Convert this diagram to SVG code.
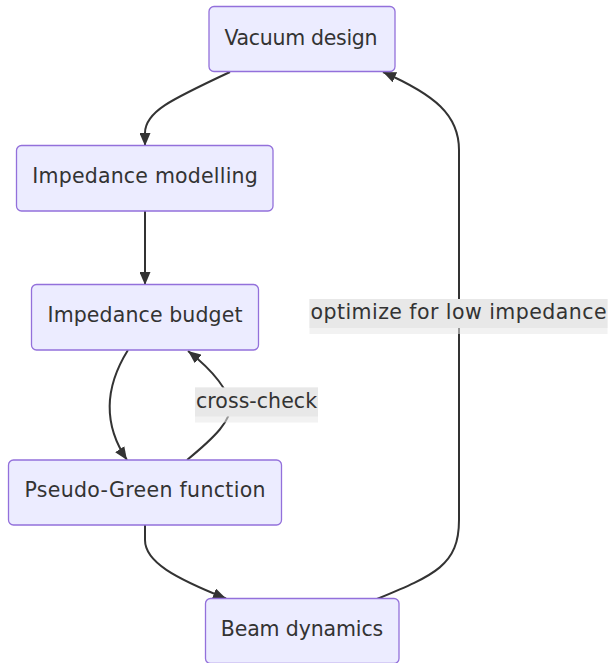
<svg xmlns="http://www.w3.org/2000/svg" width="610" height="663" viewBox="0 0 610 663">
<style>
.node rect{fill:#ECECFF;stroke:#9370DB;stroke-width:1.3px;}
.label{font-family:"DejaVu Sans",Verdana,sans-serif;font-size:20.5px;fill:#333333;text-anchor:middle;}
.edge{fill:none;stroke:#333333;stroke-width:2px;}
.lbl-dark{fill:#e8e8e8;}
.lbl-light{fill:#e8e8e8;opacity:0.55;}
</style>
<defs>
<marker id="arrow" viewBox="0 0 13 11" refX="13" refY="5.5" markerWidth="13" markerHeight="11" markerUnits="userSpaceOnUse" orient="auto">
<path d="M0,0 L13,5.5 L0,11 z" fill="#333333"/>
</marker>
</defs>
<rect width="610" height="663" fill="#ffffff"/>
<g id="connectors">
<path class="edge" marker-end="url(#arrow)" d="M230,72 C170,100 145,112 145,133 L145,146"/>
<path class="edge" marker-end="url(#arrow)" d="M145,211 L145,285"/>
<path class="edge" marker-end="url(#arrow)" d="M128,350 C108,382 100,420 127,460"/>
<path class="edge" marker-end="url(#arrow)" d="M187,460 C215,437 232,420 230,405 C229,392 215,372 188,351"/>
<path class="edge" marker-end="url(#arrow)" d="M145,525 L145,540 C145,562 175,578 226,598.5"/>
<path class="edge" marker-end="url(#arrow)" d="M377,599 C435,575 459,565 459,520 L459,150 C459,115 435,95 383,72"/>
</g>
<g id="edge-labels">
<g id="label-crosscheck">
<rect class="lbl-light" x="195" y="387.5" width="123" height="35"/>
<rect class="lbl-dark" x="195" y="387.5" width="123" height="29"/>
<text class="label" x="256.5" y="407.5" textLength="121">cross-check</text>
</g>
<g id="label-optimize">
<rect class="lbl-light" x="309.5" y="299" width="298" height="35"/>
<rect class="lbl-dark" x="309.5" y="299" width="298" height="29"/>
<text class="label" x="458.5" y="319" textLength="296">optimize for low impedance</text>
</g>
</g>
<g id="node-vacuum" class="node">
<rect x="209" y="6.5" width="186" height="65" rx="5" ry="5"/>
<text class="label" x="301" y="44.5" textLength="153">Vacuum design</text>
</g>
<g id="node-modelling" class="node">
<rect x="16.5" y="145.5" width="256.5" height="65.5" rx="5" ry="5"/>
<text class="label" x="145" y="183.3" textLength="225.5">Impedance modelling</text>
</g>
<g id="node-budget" class="node">
<rect x="31.5" y="284.5" width="227" height="65.5" rx="5" ry="5"/>
<text class="label" x="145" y="322" textLength="195">Impedance budget</text>
</g>
<g id="node-pseudo" class="node">
<rect x="8.5" y="460" width="273" height="65" rx="5" ry="5"/>
<text class="label" x="145" y="497" textLength="241">Pseudo-Green function</text>
</g>
<g id="node-beam" class="node">
<rect x="205.5" y="598.5" width="193.5" height="65" rx="5" ry="5"/>
<text class="label" x="302" y="635.5" textLength="162.5">Beam dynamics</text>
</g>
</svg>
